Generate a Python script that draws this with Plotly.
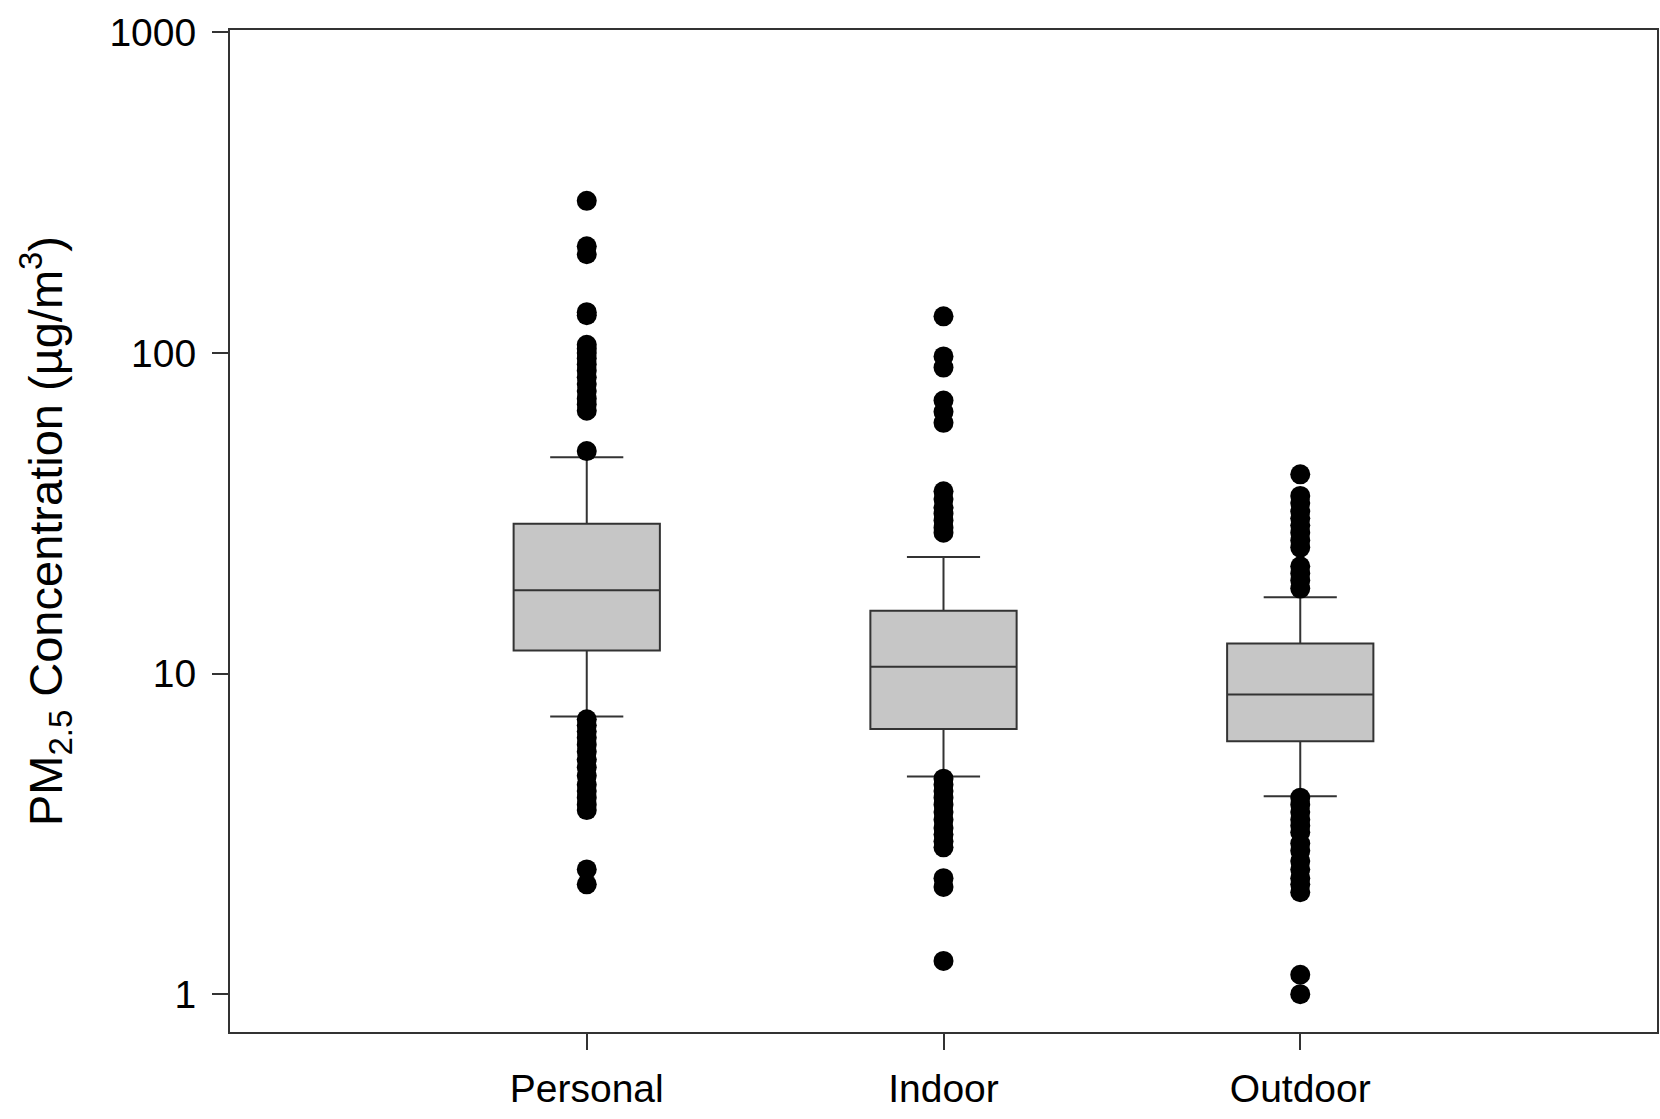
import plotly.graph_objects as go

categories = ["Personal", "Indoor", "Outdoor"]
x_pos = [1, 2, 3]

q1 = [11.8, 6.72, 6.15]
median = [18.2, 10.5, 8.6]
q3 = [29.3, 15.7, 12.4]
lower_whisker = [7.35, 4.77, 4.14]
upper_whisker = [47.3, 23.1, 17.3]

personal_outliers = [298, 215, 203, 134, 131, 106, 103, 100, 96, 92, 88, 84, 80, 76, 72, 69, 66, 49.4,
                     7.2, 6.9, 6.6, 6.3, 6.0, 5.7, 5.4, 5.1, 4.8, 4.5, 4.3, 4.1, 3.9, 3.75, 2.45, 2.2]
indoor_outliers = [130, 97.5, 90, 71, 65.5, 60.5, 37, 35, 33, 31.5, 30, 28.5, 27.5,
                   4.7, 4.5, 4.3, 4.1, 3.9, 3.7, 3.5, 3.3, 3.15, 3.0, 2.87, 2.3, 2.16, 1.27]
outdoor_outliers = [41.8, 35.8, 34, 32, 30.5, 29, 27.5, 26, 24.7, 21.6, 20.5, 19.5, 18.4,
                    4.1, 3.9, 3.7, 3.5, 3.35, 3.2, 2.95, 2.8, 2.6, 2.45, 2.3, 2.2, 2.08, 1.15, 1.0]
outliers = [personal_outliers, indoor_outliers, outdoor_outliers]

y_ticks = [1, 10, 100, 1000]
y_tick_labels = ["1", "10", "100", "1000"]

FONT = "Liberation Sans, Arial, sans-serif"

fig = go.Figure()

fig.add_trace(go.Box(
    x=x_pos, q1=q1, median=median, q3=q3,
    lowerfence=lower_whisker, upperfence=upper_whisker,
    width=0.41, whiskerwidth=0.5,
    fillcolor="#c6c6c6",
    line=dict(color="#333333", width=2),
    boxpoints=False, showlegend=False, hoverinfo="skip",
))

for xp, vals in zip(x_pos, outliers):
    fig.add_trace(go.Scatter(
        x=[xp] * len(vals), y=vals, mode="markers",
        marker=dict(color="black", size=20, line=dict(width=0)),
        showlegend=False, hoverinfo="skip",
    ))

fig.update_layout(
    width=1660, height=1119,
    margin=dict(l=230, r=3, t=30, b=87),
    paper_bgcolor="white", plot_bgcolor="white",
    font=dict(family=FONT, color="black", size=39),
)

fig.update_xaxes(
    range=[0, 4], tickmode="array", tickvals=x_pos, ticktext=categories,
    ticks="outside", ticklen=16, tickwidth=1.5, tickcolor="#333333",
    showline=True, linecolor="#333333", linewidth=2, mirror=True,
    showgrid=False, zeroline=False,
    tickfont=dict(size=39, family=FONT, color="black"),
    ticklabelstandoff=5,
)

fig.update_yaxes(
    type="log", range=[-0.118, 3.007],
    tickmode="array", tickvals=y_ticks, ticktext=y_tick_labels,
    ticks="outside", ticklen=16, tickwidth=1.5, tickcolor="#333333",
    showline=True, linecolor="#333333", linewidth=2, mirror=True,
    showgrid=False, zeroline=False,
    tickfont=dict(size=39, family=FONT, color="black"),
    ticklabelstandoff=8,
    title=dict(text="PM<sub>2.5</sub> Concentration (µg/m<sup>3</sup>)",
               font=dict(size=47, family=FONT, color="black"), standoff=32),
    automargin=False,
)

fig.write_html("out.html",
               config={"displayModeBar": False},
               post_script="document.body.style.margin='0';document.body.style.overflow='hidden';")
